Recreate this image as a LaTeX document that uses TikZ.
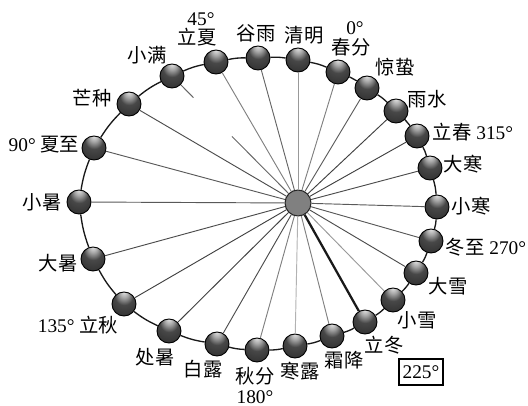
\documentclass[tikz,border=0pt]{standalone}
\usepackage{fontspec}
\setmainfont{Liberation Serif}
\newfontfamily\cjk{Noto Sans CJK SC}
\usetikzlibrary{positioning}
\newcommand{\zh}[1]{{\cjk #1}}
\pgfdeclareradialshading{planet}{\pgfpoint{0bp}{27bp}}{
  color(0bp)=(black!8);
  color(9bp)=(black!35);
  color(19bp)=(black!72);
  color(34bp)=(black!80);
  color(44bp)=(black!92);
  color(50bp)=(black)
}

\begin{document}
\begin{tikzpicture}[
  x=0.75pt, y=-0.75pt,
  ballnode/.style={
    circle, inner sep=0pt, minimum size=18pt,
    shading=planet, draw=black, line width=0.7pt
  },
  hubnode/.style={
    circle, inner sep=0pt, minimum size=19.5pt,
    fill=black!50, draw=black!85, line width=0.8pt
  },
  term/.style={inner sep=0pt, font=\fontsize{14.5}{16}\selectfont},
  orbit/.style={line width=1pt, black!90},
  spoke/.style={line width=0.7pt}
]
  \useasboundingbox (0,0) rectangle (528,406);

  % sun in the middle and the 24 positions round it
  \node[hubnode] (hub) at (298,203) {};
  \foreach \name/\x/\y in {
    chunfen/338/72, qingming/298/60, guyu/258/58, lixia/216/62,
    xiaoman/172/76, mangzhong/129/104, xiazhi/94/148, xiaoshu/79/202,
    dashu/93/259, liqiu/124/304, chushu/169/331, bailu/217/344,
    qiufen/257/350, hanlu/295/346, shuangjiang/332/336, lidong/365/322,
    xiaoxue/393/300, daxue/416/273, dongzhi/431/241, xiaohan/437/207,
    dahan/430/168, lichun/417/136, yushui/396/111, jingzhe/367/88}
    \node[ballnode] (\name) at (\x,\y) {};

  % ring, ball to ball
  \foreach \name [remember=\name as \prev (initially jingzhe)] in {
    chunfen, qingming, guyu, lixia, xiaoman, mangzhong, xiazhi, xiaoshu,
    dashu, liqiu, chushu, bailu, qiufen, hanlu, shuangjiang, lidong,
    xiaoxue, daxue, dongzhi, xiaohan, dahan, lichun, yushui, jingzhe}
    \draw[orbit] (\prev) to[bend right=6] (\name);

  % spokes, the grey tone varies from one to the next
  \foreach \name/\tone in {
    chunfen/50, qingming/40, guyu/60, lixia/50, mangzhong/70, xiazhi/65,
    xiaoshu/65, dashu/70, liqiu/75, chushu/75, bailu/70, qiufen/50,
    hanlu/30, shuangjiang/50, xiaoxue/40, daxue/70, dongzhi/65,
    xiaohan/65, dahan/70, lichun/75, yushui/75, jingzhe/65}
    \draw[spoke, black!\tone] (hub) -- (\name);
  \draw[spoke, black!60, dash pattern=on 13.5pt off 41pt on 200pt] (xiaoman) -- (hub);
  \draw[line width=1.7pt, black!90] (hub) -- (lidong);

  % names of the positions
  \node[term] (t0)  at (355,28)  {0°};
  \node[term] (t1)  at (351,47)  {\zh{春分}};
  \node[term] (t2)  at (304,35)  {\zh{清明}};
  \node[term] (t3)  at (256,33)  {\zh{谷雨}};
  \node[term] (t4)  at (201,19)  {45°};
  \node[term] (t5)  at (197,37)  {\zh{立夏}};
  \node[term] (t6)  at (147,55)  {\zh{小满}};
  \node[term] (t7)  at (92,98)   {\zh{芒种}};
  \node[term] (t8)  at (44,145)  {90° \zh{夏至}};
  \node[term] (t9)  at (42,202)  {\zh{小暑}};
  \node[term] (t10) at (58,263)  {\zh{大暑}};
  \node[term] (t11) at (78,325)  {135° \zh{立秋}};
  \node[term] (t12) at (155,357) {\zh{处暑}};
  \node[term] (t13) at (203,369) {\zh{白露}};
  \node[term] (t14) at (255,376) {\zh{秋分}};
  \node[term] (t15) at (255,397) {180°};
  \node[term] (t16) at (300,371) {\zh{寒露}};
  \node[term] (t17) at (344,360) {\zh{霜降}};
  \node[term] (t18) at (384,345) {\zh{立冬}};
  \node[term] (t19) at (417,320) {\zh{小雪}};
  \node[term] (t20) at (448,286) {\zh{大雪}};
  \node[term] (t21) at (486,247) {\zh{冬至} 270°};
  \node[term] (t22) at (471,206) {\zh{小寒}};
  \node[term] (t23) at (463,164) {\zh{大寒}};
  \node[term] (t24) at (473,132) {\zh{立春} 315°};
  \node[term] (t25) at (427,99)  {\zh{雨水}};
  \node[term] (t26) at (395,67)  {\zh{惊蛰}};

  \node[term, draw, line width=1.3pt, minimum width=33pt, minimum height=20pt] (angle) at (421,372) {225°};
\end{tikzpicture}
\end{document}
